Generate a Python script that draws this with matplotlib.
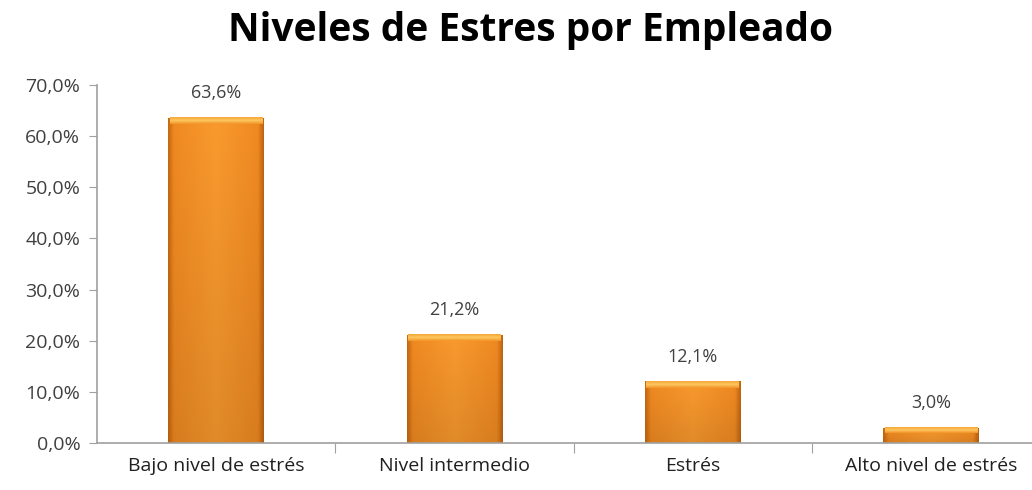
import numpy as np
import matplotlib
matplotlib.use('Agg')
from matplotlib import pyplot as plt
from matplotlib.colors import LinearSegmentedColormap

categories = ['Bajo nivel de estrés', 'Nivel intermedio', 'Estrés', 'Alto nivel de estrés']
values = [63.6, 21.2, 12.1, 3.0]
value_labels = ['63,6%', '21,2%', '12,1%', '3,0%']
yticks = [0, 10, 20, 30, 40, 50, 60, 70]
ytick_labels = ['0,0%', '10,0%', '20,0%', '30,0%', '40,0%', '50,0%', '60,0%', '70,0%']

plt.rcParams['font.family'] = ['Open Sans', 'DejaVu Sans']

fig = plt.figure(figsize=(10.32, 4.9), dpi=100)
ax = fig.add_axes([97 / 1032, 47 / 490, 944 / 1032, 358 / 490])

width = 0.40
bars = ax.bar(range(len(categories)), values, width=width, color='none', edgecolor='none')

# horizontal shading: thin darker sides, flat orange body
side = LinearSegmentedColormap.from_list('side', [(0, '#c8680f'), (0.06, '#f08a22'), (0.5, '#f99a2e'),
                                                  (0.94, '#f08a22'), (1, '#c06410')])
top = LinearSegmentedColormap.from_list('top', ['#f29428', '#fdc860', '#f8a83a'])
xs = np.linspace(0, 1, 128)
for b in bars:
    x0, y0 = b.get_x(), b.get_y()
    w, h = b.get_width(), b.get_height()
    # vertical: darker toward the bottom
    ys = np.linspace(0, 1, 64)[:, None]
    img = side(xs)[None, :, :3] * (0.9 + 0.1 * ys[..., None])
    img = np.clip(img, 0, 1)
    im = ax.imshow(img, extent=[x0, x0 + w, y0, y0 + h], origin='lower',
                   aspect='auto', zorder=2, interpolation='bilinear')
    im.set_clip_path(b)
    # bevelled top
    cap = min(1.3, h * 0.35)
    timg = top(np.linspace(0, 1, 16))[:, None, :3] * np.ones((1, 64, 1))
    ax.imshow(timg, extent=[x0 + 0.006, x0 + w - 0.006, y0 + h - cap, y0 + h], origin='lower',
              aspect='auto', zorder=3, interpolation='bilinear')

for i, (v, lab) in enumerate(zip(values, value_labels)):
    ax.text(i, v + 3.0, lab, ha='center', va='bottom', fontsize=13, color='#404040')

ax.set_xlim(-0.5, 3.5 - 9 / 236)
ax.set_ylim(0, 70)
ax.set_yticks(yticks)
ax.set_yticklabels(ytick_labels, fontsize=14, color='#404040')
ax.set_xticks(np.arange(0.5, 3.5, 1), minor=False)
ax.set_xticklabels([])
ax.set_xticks(range(len(categories)), minor=True)
ax.set_xticklabels(categories, minor=True, fontsize=14, color='#202020')
ax.tick_params(axis='x', which='minor', length=0, pad=10)
ax.tick_params(axis='x', which='major', length=7, color='#a0a0a0', direction='out')
ax.tick_params(axis='y', length=6, color='#a0a0a0', direction='out', pad=6)

for s in ['top', 'right']:
    ax.spines[s].set_visible(False)
for s in ['left', 'bottom']:
    ax.spines[s].set_color('#a0a0a0')
    ax.spines[s].set_linewidth(1.2)

fig.text(531 / 1032, 1 - 30 / 490, 'Niveles de Estres por Empleado', ha='center', va='center',
         fontsize=28, fontweight='bold', color='black')

fig.savefig('out.png', dpi=100)
